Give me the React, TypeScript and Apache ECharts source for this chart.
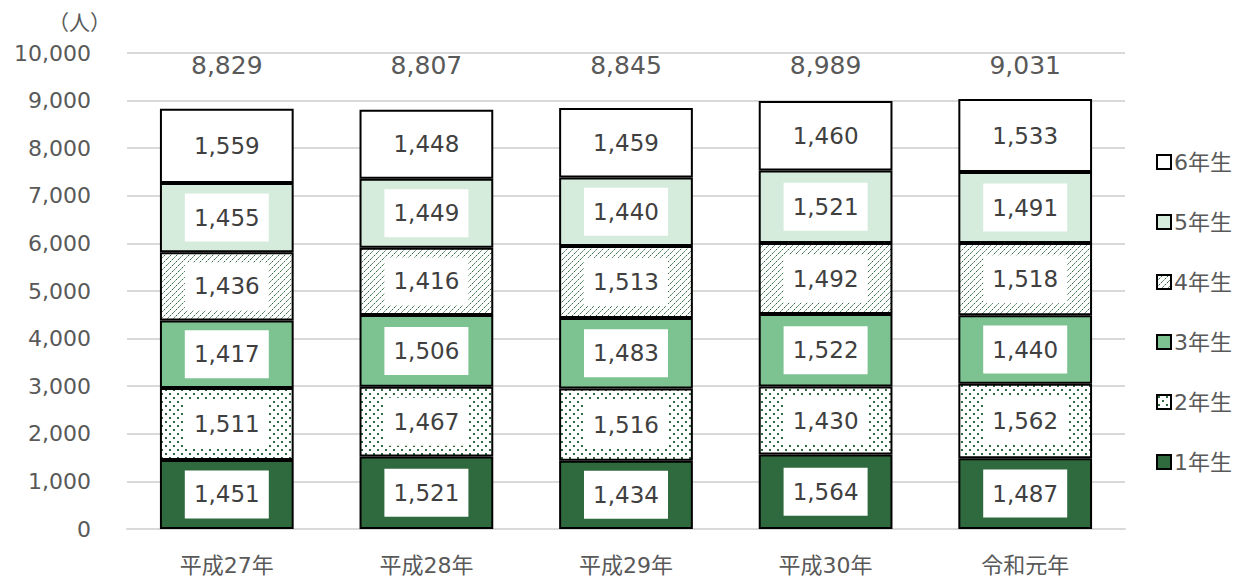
import React, { useEffect, useRef } from "react";
import * as echarts from "echarts";

const categories = ["平成27年", "平成28年", "平成29年", "平成30年", "令和元年"];
const grade1 = [1451, 1521, 1434, 1564, 1487];
const grade2 = [1511, 1467, 1516, 1430, 1562];
const grade3 = [1417, 1506, 1483, 1522, 1440];
const grade4 = [1436, 1416, 1513, 1492, 1518];
const grade5 = [1455, 1449, 1440, 1521, 1491];
const grade6 = [1559, 1448, 1459, 1460, 1533];
const seriesNames = ["1年生", "2年生", "3年生", "4年生", "5年生", "6年生"];
const yTicks = [0, 10000, 1000];

const DARK = "#2f6a3f";

function makeHatch(): HTMLCanvasElement {
  const c = document.createElement("canvas");
  c.width = 6;
  c.height = 6;
  const ctx = c.getContext("2d")!;
  ctx.fillStyle = "#ffffff";
  ctx.fillRect(0, 0, 6, 6);
  ctx.strokeStyle = DARK;
  ctx.lineWidth = 1;
  ctx.setLineDash([2.5, 1]);
  ctx.beginPath();
  ctx.moveTo(-1, 7);
  ctx.lineTo(7, -1);
  ctx.moveTo(-4, 4);
  ctx.lineTo(4, -4);
  ctx.moveTo(2, 10);
  ctx.lineTo(10, 2);
  ctx.stroke();
  return c;
}

function makeDots(): HTMLCanvasElement {
  const c = document.createElement("canvas");
  c.width = 8;
  c.height = 8;
  const ctx = c.getContext("2d")!;
  ctx.fillStyle = "#ffffff";
  ctx.fillRect(0, 0, 8, 8);
  ctx.fillStyle = DARK;
  ctx.fillRect(1, 1, 2, 2);
  ctx.fillRect(5, 5, 2, 2);
  return c;
}

export default function App() {
  const ref = useRef<HTMLDivElement>(null);
  useEffect(() => {
    if (!ref.current) return;
    const chart = echarts.init(ref.current, undefined, { renderer: "svg" });
    const hatch = { image: makeHatch(), repeat: "repeat" } as any;
    const dots = { image: makeDots(), repeat: "repeat" } as any;
    const fills: any[] = [DARK, dots, "#7dc391", hatch, "#d5ebdc", "#ffffff"];
    const values = [grade1, grade2, grade3, grade4, grade5, grade6];
    const totals = categories.map((_, i) =>
      values.reduce((s, arr) => s + arr[i], 0)
    );
    const fmt = (v: number) => v.toLocaleString("en-US");
    const font = "'DejaVu Sans', 'Noto Sans CJK JP', sans-serif";

    chart.setOption({
      animation: false,
      grid: { left: 127, right: 115, top: 53, bottom: 49 },
      legend: {
        orient: "vertical",
        left: 1151,
        top: 146,
        icon: "rect",
        itemWidth: 14,
        itemHeight: 14,
        itemGap: 38,
        data: [...seriesNames].reverse(),
        textStyle: { fontSize: 22, color: "#595959", fontFamily: font, padding: [0, 0, 0, -2] },
        itemStyle: { borderColor: "#000", borderWidth: 2 },
      },
      xAxis: [
        {
          type: "category",
          data: categories,
          axisLine: { lineStyle: { color: "#d9d9d9", width: 2 } },
          axisTick: { show: false },
          axisLabel: { fontSize: 22, color: "#595959", fontFamily: font, margin: 25 },
        },
        {
          type: "category",
          position: "top",
          data: totals.map(fmt),
          axisLine: { show: false },
          axisTick: { show: false },
          axisLabel: {
            inside: true,
            margin: 0,
            fontSize: 25,
            color: "#595959",
            fontFamily: font,
          },
        },
      ],
      yAxis: {
        type: "value",
        min: yTicks[0],
        max: yTicks[1],
        interval: yTicks[2],
        name: "（人）",
        nameLocation: "end",
        nameGap: 20,
        nameTextStyle: {
          fontSize: 21,
          color: "#595959",
          fontFamily: font,
          align: "right",
          padding: [0, 16, 0, 0],
        },
        axisLine: { show: false },
        axisTick: { show: false },
        axisLabel: {
          fontSize: 22,
          color: "#595959",
          fontFamily: font,
          margin: 36,
          formatter: (v: number) => fmt(v),
        },
        splitLine: { lineStyle: { color: "#d9d9d9", width: 2 } },
      },
      series: seriesNames.map((name, k) => ({
        name,
        type: "bar",
        stack: "total",
        barWidth: "67%",
        data: values[k],
        itemStyle: { color: fills[k], borderColor: "#000", borderWidth: 2 },
        label: {
          show: true,
          position: "inside",
          formatter: (p: any) => fmt(p.value),
          fontSize: 23,
          color: "#404040",
          fontFamily: font,
          backgroundColor: "#ffffff",
          width: 64,
          height: 22,
          lineHeight: 22,
          align: "center",
          padding: [13, 10],
        },
      })),
    });
    return () => chart.dispose();
  }, []);
  return (
    <div
      ref={ref}
      style={{ position: "absolute", left: 0, top: 0, width: 1240, height: 578 }}
    />
  );
}
